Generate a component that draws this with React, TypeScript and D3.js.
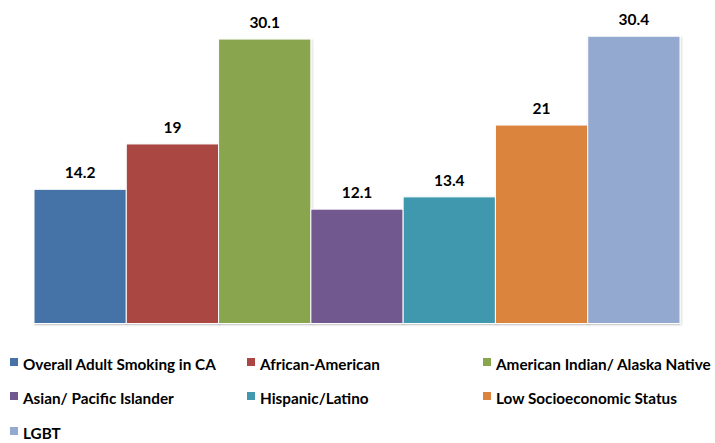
import React from 'react'
import * as d3 from 'd3'

// data
const categories = [
  'Overall Adult Smoking in CA',
  'African-American',
  'American Indian/ Alaska Native',
  'Asian/ Pacific Islander',
  'Hispanic/Latino',
  'Low Socioeconomic Status',
  'LGBT',
]
const values = [14.2, 19, 30.1, 12.1, 13.4, 21, 30.4]
const colors = ['#4572A7', '#AA4643', '#89A54E', '#71588F', '#4198AF', '#DB843D', '#93A9CF']

const W = 715
const H = 443
const FONT = 'Lato, "Open Sans", sans-serif'

export default function App() {
  const x = d3.scaleBand<string>()
    .domain(categories)
    .range([34, 680])
    .paddingInner(0)
    .paddingOuter(0)

  const y = d3.scaleLinear()
    .domain([0, 32])
    .range([323.5, 323.5 - 32 * 9.45])

  const legendCols = [10, 247, 483]
  const legendRows = [365, 399, 434]

  return (
    <svg width={W} height={H} style={{position: 'absolute', left: 0, top: 0}} fontFamily={FONT}>
      <defs>
        <filter id="sh" x="-10%" y="-10%" width="120%" height="120%">
          <feDropShadow dx="1" dy="1" stdDeviation="1" floodColor="#000" floodOpacity="0.18" />
        </filter>
      </defs>
      <rect width={W} height={H} fill="#fff" />
      {/* baseline */}
      <line x1={34} x2={680} y1={y(0) + 0.5} y2={y(0) + 0.5} stroke="#d9d9d9" strokeWidth={1} />
      {categories.map((c, i) => (
        <g key={c}>
          <rect
            x={x(c)!}
            y={y(values[i])}
            width={x.bandwidth()}
            height={y(0) - y(values[i])}
            fill={colors[i]}
            stroke="#fff"
            strokeWidth={1}
            filter="url(#sh)"
          />
          <text
            x={x(c)! + x.bandwidth() / 2}
            y={y(values[i]) - 11}
            textAnchor="middle"
            fontWeight="bold"
            fontSize={15.5}
            fill="#000"
          >
            {values[i]}
          </text>
        </g>
      ))}
      {categories.map((c, i) => {
        const lx = legendCols[i % 3]
        const ly = legendRows[Math.floor(i / 3)]
        return (
          <g key={'lg' + c}>
            <rect x={lx} y={ly - 7} width={8} height={8} fill={colors[i]} />
            <text x={lx + 13} y={ly + 5} fontWeight="bold" fontSize={15.3} fill="#000">
              {c}
            </text>
          </g>
        )
      })}
    </svg>
  )
}
